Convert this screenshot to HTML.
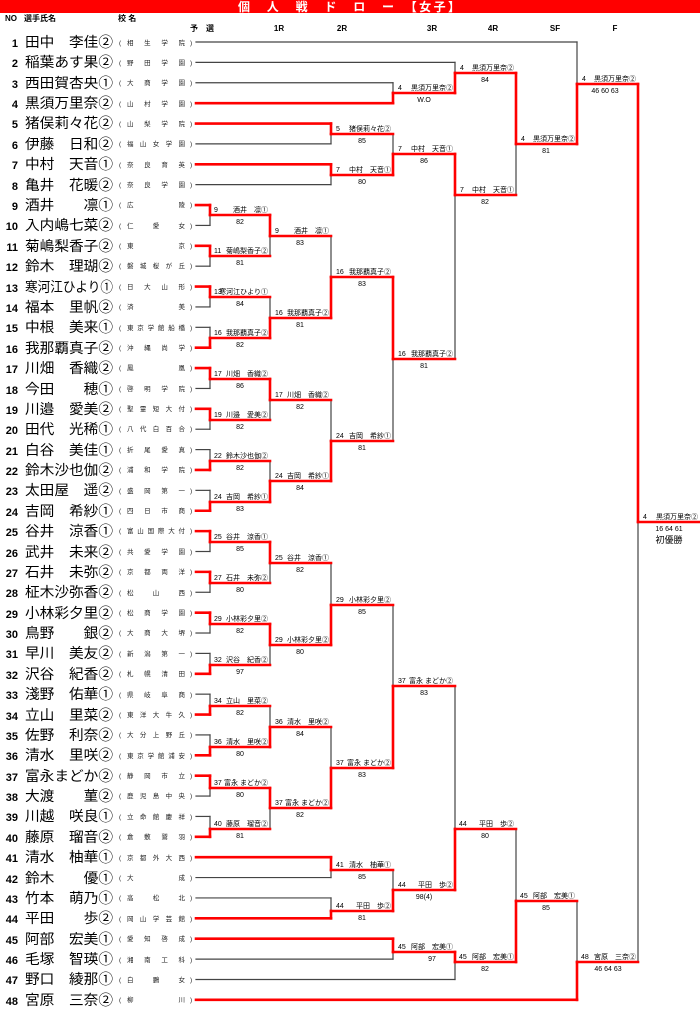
<!DOCTYPE html>
<html><head><meta charset="utf-8">
<style>
html,body{margin:0;padding:0;background:#fff;}
svg{display:block;font-family:"Liberation Sans","Noto Sans CJK JP",sans-serif;}
.nm{font-size:14px;fill:#000;}
.no{font-size:11px;font-weight:bold;fill:#000;}
.sc{font-size:6.5px;fill:#222;}
.lb{font-size:7px;fill:#000;}
.ls{font-size:7.5px;fill:#000;}
.hd{font-size:8px;font-weight:bold;fill:#000;}
</style></head><body>
<svg id="s" width="700" height="1013" viewBox="0 0 700 1013" xmlns="http://www.w3.org/2000/svg">
<rect x="0" y="0" width="700" height="13" fill="#ff0000"/>
<text x="238" y="11" textLength="222" lengthAdjust="spacing" font-size="12" font-weight="bold" fill="#fff">個　人　戦　ド　ロ　ー　【女子】</text>
<text x="5" y="21" class="hd">NO</text>
<text x="24" y="21" class="hd">選手氏名</text>
<text x="118" y="21" class="hd">校 名</text>
<text x="190" y="31" class="hd">予　選</text>
<text x="279" y="31" class="hd" text-anchor="middle">1R</text>
<text x="342" y="31" class="hd" text-anchor="middle">2R</text>
<text x="432" y="31" class="hd" text-anchor="middle">3R</text>
<text x="493" y="31" class="hd" text-anchor="middle">4R</text>
<text x="555" y="31" class="hd" text-anchor="middle">SF</text>
<text x="615" y="31" class="hd" text-anchor="middle">F</text>
<g id="lines"></g>
<g id="names">
<text x="18" y="47" class="no" text-anchor="end">1</text><text x="25" y="47" class="nm" textLength="88" lengthAdjust="spacingAndGlyphs">田中　李佳②</text>
<text x="18" y="67" class="no" text-anchor="end">2</text><text x="25" y="67" class="nm" textLength="88" lengthAdjust="spacingAndGlyphs">稲葉あす果②</text>
<text x="18" y="88" class="no" text-anchor="end">3</text><text x="25" y="88" class="nm" textLength="88" lengthAdjust="spacingAndGlyphs">西田賀杏央①</text>
<text x="18" y="108" class="no" text-anchor="end">4</text><text x="25" y="108" class="nm" textLength="88" lengthAdjust="spacingAndGlyphs">黒須万里奈②</text>
<text x="18" y="128" class="no" text-anchor="end">5</text><text x="25" y="128" class="nm" textLength="88" lengthAdjust="spacingAndGlyphs">猪俣莉々花②</text>
<text x="18" y="149" class="no" text-anchor="end">6</text><text x="25" y="149" class="nm" textLength="88" lengthAdjust="spacingAndGlyphs">伊藤　日和②</text>
<text x="18" y="169" class="no" text-anchor="end">7</text><text x="25" y="169" class="nm" textLength="88" lengthAdjust="spacingAndGlyphs">中村　天音①</text>
<text x="18" y="190" class="no" text-anchor="end">8</text><text x="25" y="190" class="nm" textLength="88" lengthAdjust="spacingAndGlyphs">亀井　花暖②</text>
<text x="18" y="210" class="no" text-anchor="end">9</text><text x="25" y="210" class="nm" textLength="88" lengthAdjust="spacingAndGlyphs">酒井　　凛①</text>
<text x="18" y="230" class="no" text-anchor="end">10</text><text x="25" y="230" class="nm" textLength="88" lengthAdjust="spacingAndGlyphs">入内嶋七菜②</text>
<text x="18" y="251" class="no" text-anchor="end">11</text><text x="25" y="251" class="nm" textLength="88" lengthAdjust="spacingAndGlyphs">菊嶋梨香子②</text>
<text x="18" y="271" class="no" text-anchor="end">12</text><text x="25" y="271" class="nm" textLength="88" lengthAdjust="spacingAndGlyphs">鈴木　理瑚②</text>
<text x="18" y="292" class="no" text-anchor="end">13</text><text x="25" y="292" class="nm" textLength="88" lengthAdjust="spacingAndGlyphs">寒河江ひより①</text>
<text x="18" y="312" class="no" text-anchor="end">14</text><text x="25" y="312" class="nm" textLength="88" lengthAdjust="spacingAndGlyphs">福本　里帆②</text>
<text x="18" y="332" class="no" text-anchor="end">15</text><text x="25" y="332" class="nm" textLength="88" lengthAdjust="spacingAndGlyphs">中根　美来①</text>
<text x="18" y="353" class="no" text-anchor="end">16</text><text x="25" y="353" class="nm" textLength="88" lengthAdjust="spacingAndGlyphs">我那覇真子②</text>
<text x="18" y="373" class="no" text-anchor="end">17</text><text x="25" y="373" class="nm" textLength="88" lengthAdjust="spacingAndGlyphs">川畑　香織②</text>
<text x="18" y="394" class="no" text-anchor="end">18</text><text x="25" y="394" class="nm" textLength="88" lengthAdjust="spacingAndGlyphs">今田　　穂①</text>
<text x="18" y="414" class="no" text-anchor="end">19</text><text x="25" y="414" class="nm" textLength="88" lengthAdjust="spacingAndGlyphs">川邉　愛美②</text>
<text x="18" y="434" class="no" text-anchor="end">20</text><text x="25" y="434" class="nm" textLength="88" lengthAdjust="spacingAndGlyphs">田代　光稀①</text>
<text x="18" y="455" class="no" text-anchor="end">21</text><text x="25" y="455" class="nm" textLength="88" lengthAdjust="spacingAndGlyphs">白谷　美佳①</text>
<text x="18" y="475" class="no" text-anchor="end">22</text><text x="25" y="475" class="nm" textLength="88" lengthAdjust="spacingAndGlyphs">鈴木沙也伽②</text>
<text x="18" y="495" class="no" text-anchor="end">23</text><text x="25" y="495" class="nm" textLength="88" lengthAdjust="spacingAndGlyphs">太田屋　遥②</text>
<text x="18" y="516" class="no" text-anchor="end">24</text><text x="25" y="516" class="nm" textLength="88" lengthAdjust="spacingAndGlyphs">吉岡　希紗①</text>
<text x="18" y="536" class="no" text-anchor="end">25</text><text x="25" y="536" class="nm" textLength="88" lengthAdjust="spacingAndGlyphs">谷井　涼香①</text>
<text x="18" y="557" class="no" text-anchor="end">26</text><text x="25" y="557" class="nm" textLength="88" lengthAdjust="spacingAndGlyphs">武井　未来②</text>
<text x="18" y="577" class="no" text-anchor="end">27</text><text x="25" y="577" class="nm" textLength="88" lengthAdjust="spacingAndGlyphs">石井　未弥②</text>
<text x="18" y="597" class="no" text-anchor="end">28</text><text x="25" y="597" class="nm" textLength="88" lengthAdjust="spacingAndGlyphs">柾木沙弥香②</text>
<text x="18" y="618" class="no" text-anchor="end">29</text><text x="25" y="618" class="nm" textLength="88" lengthAdjust="spacingAndGlyphs">小林彩夕里②</text>
<text x="18" y="638" class="no" text-anchor="end">30</text><text x="25" y="638" class="nm" textLength="88" lengthAdjust="spacingAndGlyphs">鳥野　　銀②</text>
<text x="18" y="658" class="no" text-anchor="end">31</text><text x="25" y="658" class="nm" textLength="88" lengthAdjust="spacingAndGlyphs">早川　美友②</text>
<text x="18" y="679" class="no" text-anchor="end">32</text><text x="25" y="679" class="nm" textLength="88" lengthAdjust="spacingAndGlyphs">沢谷　紀香②</text>
<text x="18" y="699" class="no" text-anchor="end">33</text><text x="25" y="699" class="nm" textLength="88" lengthAdjust="spacingAndGlyphs">淺野　佑華①</text>
<text x="18" y="720" class="no" text-anchor="end">34</text><text x="25" y="720" class="nm" textLength="88" lengthAdjust="spacingAndGlyphs">立山　里菜②</text>
<text x="18" y="740" class="no" text-anchor="end">35</text><text x="25" y="740" class="nm" textLength="88" lengthAdjust="spacingAndGlyphs">佐野　利奈②</text>
<text x="18" y="760" class="no" text-anchor="end">36</text><text x="25" y="760" class="nm" textLength="88" lengthAdjust="spacingAndGlyphs">清水　里咲②</text>
<text x="18" y="781" class="no" text-anchor="end">37</text><text x="25" y="781" class="nm" textLength="88" lengthAdjust="spacingAndGlyphs">富永まどか②</text>
<text x="18" y="801" class="no" text-anchor="end">38</text><text x="25" y="801" class="nm" textLength="88" lengthAdjust="spacingAndGlyphs">大渡　　菫②</text>
<text x="18" y="821" class="no" text-anchor="end">39</text><text x="25" y="821" class="nm" textLength="88" lengthAdjust="spacingAndGlyphs">川越　咲良①</text>
<text x="18" y="842" class="no" text-anchor="end">40</text><text x="25" y="842" class="nm" textLength="88" lengthAdjust="spacingAndGlyphs">藤原　瑠音②</text>
<text x="18" y="862" class="no" text-anchor="end">41</text><text x="25" y="862" class="nm" textLength="88" lengthAdjust="spacingAndGlyphs">清水　柚華①</text>
<text x="18" y="883" class="no" text-anchor="end">42</text><text x="25" y="883" class="nm" textLength="88" lengthAdjust="spacingAndGlyphs">鈴木　　優①</text>
<text x="18" y="903" class="no" text-anchor="end">43</text><text x="25" y="903" class="nm" textLength="88" lengthAdjust="spacingAndGlyphs">竹本　萌乃①</text>
<text x="18" y="923" class="no" text-anchor="end">44</text><text x="25" y="923" class="nm" textLength="88" lengthAdjust="spacingAndGlyphs">平田　　歩②</text>
<text x="18" y="944" class="no" text-anchor="end">45</text><text x="25" y="944" class="nm" textLength="88" lengthAdjust="spacingAndGlyphs">阿部　宏美①</text>
<text x="18" y="964" class="no" text-anchor="end">46</text><text x="25" y="964" class="nm" textLength="88" lengthAdjust="spacingAndGlyphs">毛塚　智瑛①</text>
<text x="18" y="984" class="no" text-anchor="end">47</text><text x="25" y="984" class="nm" textLength="88" lengthAdjust="spacingAndGlyphs">野口　綾那①</text>
<text x="18" y="1005" class="no" text-anchor="end">48</text><text x="25" y="1005" class="nm" textLength="88" lengthAdjust="spacingAndGlyphs">宮原　三奈②</text>
</g>
<g class="sc">
<text x="119" y="45">(</text><text x="127" y="45" textLength="58" lengthAdjust="spacing">相生学院</text><text x="190" y="45">)</text>
<text x="119" y="65">(</text><text x="127" y="65" textLength="58" lengthAdjust="spacing">野田学園</text><text x="190" y="65">)</text>
<text x="119" y="85">(</text><text x="127" y="85" textLength="58" lengthAdjust="spacing">大商学園</text><text x="190" y="85">)</text>
<text x="119" y="106">(</text><text x="127" y="106" textLength="58" lengthAdjust="spacing">山村学園</text><text x="190" y="106">)</text>
<text x="119" y="126">(</text><text x="127" y="126" textLength="58" lengthAdjust="spacing">山梨学院</text><text x="190" y="126">)</text>
<text x="119" y="146">(</text><text x="127" y="146" textLength="58" lengthAdjust="spacing">福山女学園</text><text x="190" y="146">)</text>
<text x="119" y="167">(</text><text x="127" y="167" textLength="58" lengthAdjust="spacing">奈良育英</text><text x="190" y="167">)</text>
<text x="119" y="187">(</text><text x="127" y="187" textLength="58" lengthAdjust="spacing">奈良学園</text><text x="190" y="187">)</text>
<text x="119" y="207">(</text><text x="127" y="207" textLength="58" lengthAdjust="spacing">広陵</text><text x="190" y="207">)</text>
<text x="119" y="228">(</text><text x="127" y="228" textLength="58" lengthAdjust="spacing">仁愛女</text><text x="190" y="228">)</text>
<text x="119" y="248">(</text><text x="127" y="248" textLength="58" lengthAdjust="spacing">東京</text><text x="190" y="248">)</text>
<text x="119" y="268">(</text><text x="127" y="268" textLength="58" lengthAdjust="spacing">磐城桜が丘</text><text x="190" y="268">)</text>
<text x="119" y="289">(</text><text x="127" y="289" textLength="58" lengthAdjust="spacing">日大山形</text><text x="190" y="289">)</text>
<text x="119" y="309">(</text><text x="127" y="309" textLength="58" lengthAdjust="spacing">済美</text><text x="190" y="309">)</text>
<text x="119" y="330">(</text><text x="127" y="330" textLength="58" lengthAdjust="spacing">東京学館船橋</text><text x="190" y="330">)</text>
<text x="119" y="350">(</text><text x="127" y="350" textLength="58" lengthAdjust="spacing">沖縄尚学</text><text x="190" y="350">)</text>
<text x="119" y="370">(</text><text x="127" y="370" textLength="58" lengthAdjust="spacing">鳳凰</text><text x="190" y="370">)</text>
<text x="119" y="391">(</text><text x="127" y="391" textLength="58" lengthAdjust="spacing">啓明学院</text><text x="190" y="391">)</text>
<text x="119" y="411">(</text><text x="127" y="411" textLength="58" lengthAdjust="spacing">聖霊短大付</text><text x="190" y="411">)</text>
<text x="119" y="431">(</text><text x="127" y="431" textLength="58" lengthAdjust="spacing">八代白百合</text><text x="190" y="431">)</text>
<text x="119" y="452">(</text><text x="127" y="452" textLength="58" lengthAdjust="spacing">折尾愛真</text><text x="190" y="452">)</text>
<text x="119" y="472">(</text><text x="127" y="472" textLength="58" lengthAdjust="spacing">浦和学院</text><text x="190" y="472">)</text>
<text x="119" y="493">(</text><text x="127" y="493" textLength="58" lengthAdjust="spacing">盛岡第一</text><text x="190" y="493">)</text>
<text x="119" y="513">(</text><text x="127" y="513" textLength="58" lengthAdjust="spacing">四日市商</text><text x="190" y="513">)</text>
<text x="119" y="533">(</text><text x="127" y="533" textLength="58" lengthAdjust="spacing">富山国際大付</text><text x="190" y="533">)</text>
<text x="119" y="554">(</text><text x="127" y="554" textLength="58" lengthAdjust="spacing">共愛学園</text><text x="190" y="554">)</text>
<text x="119" y="574">(</text><text x="127" y="574" textLength="58" lengthAdjust="spacing">京都両洋</text><text x="190" y="574">)</text>
<text x="119" y="595">(</text><text x="127" y="595" textLength="58" lengthAdjust="spacing">松山西</text><text x="190" y="595">)</text>
<text x="119" y="615">(</text><text x="127" y="615" textLength="58" lengthAdjust="spacing">松商学園</text><text x="190" y="615">)</text>
<text x="119" y="635">(</text><text x="127" y="635" textLength="58" lengthAdjust="spacing">大商大堺</text><text x="190" y="635">)</text>
<text x="119" y="656">(</text><text x="127" y="656" textLength="58" lengthAdjust="spacing">新潟第一</text><text x="190" y="656">)</text>
<text x="119" y="676">(</text><text x="127" y="676" textLength="58" lengthAdjust="spacing">札幌清田</text><text x="190" y="676">)</text>
<text x="119" y="697">(</text><text x="127" y="697" textLength="58" lengthAdjust="spacing">県岐阜商</text><text x="190" y="697">)</text>
<text x="119" y="717">(</text><text x="127" y="717" textLength="58" lengthAdjust="spacing">東洋大牛久</text><text x="190" y="717">)</text>
<text x="119" y="737">(</text><text x="127" y="737" textLength="58" lengthAdjust="spacing">大分上野丘</text><text x="190" y="737">)</text>
<text x="119" y="758">(</text><text x="127" y="758" textLength="58" lengthAdjust="spacing">東京学館浦安</text><text x="190" y="758">)</text>
<text x="119" y="778">(</text><text x="127" y="778" textLength="58" lengthAdjust="spacing">静岡市立</text><text x="190" y="778">)</text>
<text x="119" y="798">(</text><text x="127" y="798" textLength="58" lengthAdjust="spacing">鹿児島中央</text><text x="190" y="798">)</text>
<text x="119" y="819">(</text><text x="127" y="819" textLength="58" lengthAdjust="spacing">立命館慶祥</text><text x="190" y="819">)</text>
<text x="119" y="839">(</text><text x="127" y="839" textLength="58" lengthAdjust="spacing">倉敷鷲羽</text><text x="190" y="839">)</text>
<text x="119" y="860">(</text><text x="127" y="860" textLength="58" lengthAdjust="spacing">京都外大西</text><text x="190" y="860">)</text>
<text x="119" y="880">(</text><text x="127" y="880" textLength="58" lengthAdjust="spacing">大成</text><text x="190" y="880">)</text>
<text x="119" y="900">(</text><text x="127" y="900" textLength="58" lengthAdjust="spacing">高松北</text><text x="190" y="900">)</text>
<text x="119" y="921">(</text><text x="127" y="921" textLength="58" lengthAdjust="spacing">岡山学芸館</text><text x="190" y="921">)</text>
<text x="119" y="941">(</text><text x="127" y="941" textLength="58" lengthAdjust="spacing">愛知啓成</text><text x="190" y="941">)</text>
<text x="119" y="962">(</text><text x="127" y="962" textLength="58" lengthAdjust="spacing">湘南工科</text><text x="190" y="962">)</text>
<text x="119" y="982">(</text><text x="127" y="982" textLength="58" lengthAdjust="spacing">白鵬女</text><text x="190" y="982">)</text>
<text x="119" y="1002">(</text><text x="127" y="1002" textLength="58" lengthAdjust="spacing">柳川</text><text x="190" y="1002">)</text>
</g>
<g class="lb">
<!-- top -->
<text x="398" y="90">4</text><text x="453" y="90" text-anchor="end">黒須万里奈②</text><text x="424" y="102" text-anchor="middle">W.O</text>
<text x="460" y="70">4</text><text x="514" y="70" text-anchor="end">黒須万里奈②</text><text x="485" y="82" text-anchor="middle">84</text>
<text x="336" y="131">5</text><text x="391" y="131" text-anchor="end">猪俣莉々花②</text><text x="362" y="143" text-anchor="middle">85</text>
<text x="336" y="172">7</text><text x="391" y="172" text-anchor="end">中村　天音①</text><text x="362" y="184" text-anchor="middle">80</text>
<text x="398" y="151">7</text><text x="453" y="151" text-anchor="end">中村　天音①</text><text x="424" y="163" text-anchor="middle">86</text>
<text x="460" y="192">7</text><text x="514" y="192" text-anchor="end">中村　天音①</text><text x="485" y="204" text-anchor="middle">82</text>
<text x="521" y="141">4</text><text x="575" y="141" text-anchor="end">黒須万里奈②</text><text x="546" y="153" text-anchor="middle">81</text>
<text x="582" y="81">4</text><text x="636" y="81" text-anchor="end">黒須万里奈②</text><text x="605" y="93" text-anchor="middle">46 60 63</text>
<text x="643" y="519">4</text><text x="698" y="519" text-anchor="end">黒須万里奈②</text><text x="669" y="531" text-anchor="middle">16 64 61</text>
<text x="669" y="543" text-anchor="middle" font-size="9">初優勝</text>
<!-- prelim -->
<text x="214" y="212">9</text><text x="268" y="212" text-anchor="end">酒井　凛①</text><text x="240" y="224" text-anchor="middle">82</text>
<text x="214" y="253">11</text><text x="268" y="253" text-anchor="end">菊嶋梨香子②</text><text x="240" y="265" text-anchor="middle">81</text>
<text x="214" y="294">13</text><text x="268" y="294" text-anchor="end">寒河江ひより①</text><text x="240" y="306" text-anchor="middle">84</text>
<text x="214" y="335">16</text><text x="268" y="335" text-anchor="end">我那覇真子②</text><text x="240" y="347" text-anchor="middle">82</text>
<text x="214" y="376">17</text><text x="268" y="376" text-anchor="end">川畑　香織②</text><text x="240" y="388" text-anchor="middle">86</text>
<text x="214" y="417">19</text><text x="268" y="417" text-anchor="end">川邉　愛美②</text><text x="240" y="429" text-anchor="middle">82</text>
<text x="214" y="458">22</text><text x="268" y="458" text-anchor="end">鈴木沙也伽②</text><text x="240" y="470" text-anchor="middle">82</text>
<text x="214" y="499">24</text><text x="268" y="499" text-anchor="end">吉岡　希紗①</text><text x="240" y="511" text-anchor="middle">83</text>
<text x="214" y="539">25</text><text x="268" y="539" text-anchor="end">谷井　涼香①</text><text x="240" y="551" text-anchor="middle">85</text>
<text x="214" y="580">27</text><text x="268" y="580" text-anchor="end">石井　未弥②</text><text x="240" y="592" text-anchor="middle">80</text>
<text x="214" y="621">29</text><text x="268" y="621" text-anchor="end">小林彩夕里②</text><text x="240" y="633" text-anchor="middle">82</text>
<text x="214" y="662">32</text><text x="268" y="662" text-anchor="end">沢谷　紀香②</text><text x="240" y="674" text-anchor="middle">97</text>
<text x="214" y="703">34</text><text x="268" y="703" text-anchor="end">立山　里菜②</text><text x="240" y="715" text-anchor="middle">82</text>
<text x="214" y="744">36</text><text x="268" y="744" text-anchor="end">清水　里咲②</text><text x="240" y="756" text-anchor="middle">80</text>
<text x="214" y="785">37</text><text x="268" y="785" text-anchor="end">富永 まどか②</text><text x="240" y="797" text-anchor="middle">80</text>
<text x="214" y="826">40</text><text x="268" y="826" text-anchor="end">藤原　瑠音②</text><text x="240" y="838" text-anchor="middle">81</text>
<!-- 1R -->
<text x="275" y="233">9</text><text x="329" y="233" text-anchor="end">酒井　凛①</text><text x="300" y="245" text-anchor="middle">83</text>
<text x="275" y="315">16</text><text x="329" y="315" text-anchor="end">我那覇真子②</text><text x="300" y="327" text-anchor="middle">81</text>
<text x="275" y="397">17</text><text x="329" y="397" text-anchor="end">川畑　香織②</text><text x="300" y="409" text-anchor="middle">82</text>
<text x="275" y="478">24</text><text x="329" y="478" text-anchor="end">吉岡　希紗①</text><text x="300" y="490" text-anchor="middle">84</text>
<text x="275" y="560">25</text><text x="329" y="560" text-anchor="end">谷井　涼香①</text><text x="300" y="572" text-anchor="middle">82</text>
<text x="275" y="642">29</text><text x="329" y="642" text-anchor="end">小林彩夕里②</text><text x="300" y="654" text-anchor="middle">80</text>
<text x="275" y="724">36</text><text x="329" y="724" text-anchor="end">清水　里咲②</text><text x="300" y="736" text-anchor="middle">84</text>
<text x="275" y="805">37</text><text x="329" y="805" text-anchor="end">富永 まどか②</text><text x="300" y="817" text-anchor="middle">82</text>
<!-- 2R -->
<text x="336" y="274">16</text><text x="391" y="274" text-anchor="end">我那覇真子②</text><text x="362" y="286" text-anchor="middle">83</text>
<text x="336" y="438">24</text><text x="391" y="438" text-anchor="end">吉岡　希紗①</text><text x="362" y="450" text-anchor="middle">81</text>
<text x="336" y="602">29</text><text x="391" y="602" text-anchor="end">小林彩夕里②</text><text x="362" y="614" text-anchor="middle">85</text>
<text x="336" y="765">37</text><text x="391" y="765" text-anchor="end">富永 まどか②</text><text x="362" y="777" text-anchor="middle">83</text>
<text x="336" y="867">41</text><text x="391" y="867" text-anchor="end">清水　柚華①</text><text x="362" y="879" text-anchor="middle">85</text>
<text x="336" y="908">44</text><text x="391" y="908" text-anchor="end">平田　歩②</text><text x="362" y="920" text-anchor="middle">81</text>
<!-- 3R -->
<text x="398" y="356">16</text><text x="453" y="356" text-anchor="end">我那覇真子②</text><text x="424" y="368" text-anchor="middle">81</text>
<text x="398" y="683">37</text><text x="453" y="683" text-anchor="end">富永 まどか②</text><text x="424" y="695" text-anchor="middle">83</text>
<text x="398" y="887">44</text><text x="453" y="887" text-anchor="end">平田　歩②</text><text x="424" y="899" text-anchor="middle">98(4)</text>
<text x="398" y="949">45</text><text x="453" y="949" text-anchor="end">阿部　宏美①</text><text x="432" y="961" text-anchor="middle">97</text>
<!-- 4R / SF -->
<text x="459" y="826">44</text><text x="514" y="826" text-anchor="end">平田　歩②</text><text x="485" y="838" text-anchor="middle">80</text>
<text x="459" y="959">45</text><text x="514" y="959" text-anchor="end">阿部　宏美①</text><text x="485" y="971" text-anchor="middle">82</text>
<text x="520" y="898">45</text><text x="575" y="898" text-anchor="end">阿部　宏美①</text><text x="546" y="910" text-anchor="middle">85</text>
<text x="581" y="959">48</text><text x="636" y="959" text-anchor="end">宮原　三奈②</text><text x="608" y="971" text-anchor="middle">46 64 63</text>
</g>
</svg>
<script>
(function(){
var NS="http://www.w3.org/2000/svg",g=document.getElementById("lines");
function ln(x1,y1,x2,y2,red){var l=document.createElementNS(NS,"line");
l.setAttribute("x1",x1);l.setAttribute("y1",y1);l.setAttribute("x2",x2);l.setAttribute("y2",y2);
l.setAttribute("stroke",red?"#ff0000":"#444");l.setAttribute("stroke-width",red?2.6:1.2);
l.setAttribute("stroke-linecap","square");g.appendChild(l);}
function ry(n){return 42+(n-1)*20.38;}
var redRows=[4,5,7,9,11,13,16,17,19,22,24,25,27,29,32,34,36,37,40,41,44,45,48];
var endX={1:577,2:455,3:393,4:393,5:331,6:331,7:331,8:331,41:331,42:331,43:331,44:331,45:393,46:393,47:455,48:577};
var grays=[],reds=[];
for(var n=1;n<=48;n++){var ex=endX[n]||210;var r=redRows.indexOf(n)>=0;(r?reds:grays).push([196,ry(n),ex,ry(n)]);}
var M=[
[393,ry(3),ry(4),93,1,455],[455,ry(2),93,73,1,516],[331,ry(5),ry(6),134,0,393],[331,ry(7),ry(8),175,0,393],
[393,134,175,154,1,455],[455,154,359,195,0,516],[516,73,195,144,0,577],[577,ry(1),144,84,1,638],[638,84,962,522,0,700],
[210,ry(9),ry(10),215,0,270],[210,ry(11),ry(12),256,0,270],[210,ry(13),ry(14),297,0,270],[210,ry(15),ry(16),338,1,270],
[210,ry(17),ry(18),379,0,270],[210,ry(19),ry(20),420,0,270],[210,ry(21),ry(22),461,1,270],[210,ry(23),ry(24),502,1,270],
[210,ry(25),ry(26),542,0,270],[210,ry(27),ry(28),583,0,270],[210,ry(29),ry(30),624,0,270],[210,ry(31),ry(32),665,1,270],
[210,ry(33),ry(34),706,1,270],[210,ry(35),ry(36),747,1,270],[210,ry(37),ry(38),788,0,270],[210,ry(39),ry(40),829,1,270],
[270,215,256,236,0,331],[270,297,338,318,1,331],[270,379,420,400,0,331],[270,461,502,481,1,331],
[270,542,583,563,0,331],[270,624,665,645,0,331],[270,706,747,727,1,331],[270,788,829,808,0,331],
[331,236,318,277,1,393],[331,400,481,441,1,393],[331,563,645,605,1,393],[331,727,808,768,1,393],
[331,ry(41),ry(42),870,0,393],[331,ry(43),ry(44),911,1,393],
[393,277,441,359,0,455],[393,605,768,686,1,455],[393,870,911,890,1,455],[393,ry(45),ry(46),952,0,455],
[455,686,890,829,1,516],[455,952,ry(47),962,0,516],[516,829,962,901,1,577],[577,901,ry(48),962,1,638]];
M.forEach(function(m){var x=m[0],a=m[1],b=m[2],o=m[3],w=m[4],px=m[5];
var wy=w?b:a,ly=w?a:b;grays.push([x,ly,x,o]);reds.push([x,wy,x,o]);reds.push([x,o,px,o]);});
grays.forEach(function(s){ln(s[0],s[1],s[2],s[3],false);});
reds.forEach(function(s){ln(s[0],s[1],s[2],s[3],true);});
})();
</script>
</body></html>
